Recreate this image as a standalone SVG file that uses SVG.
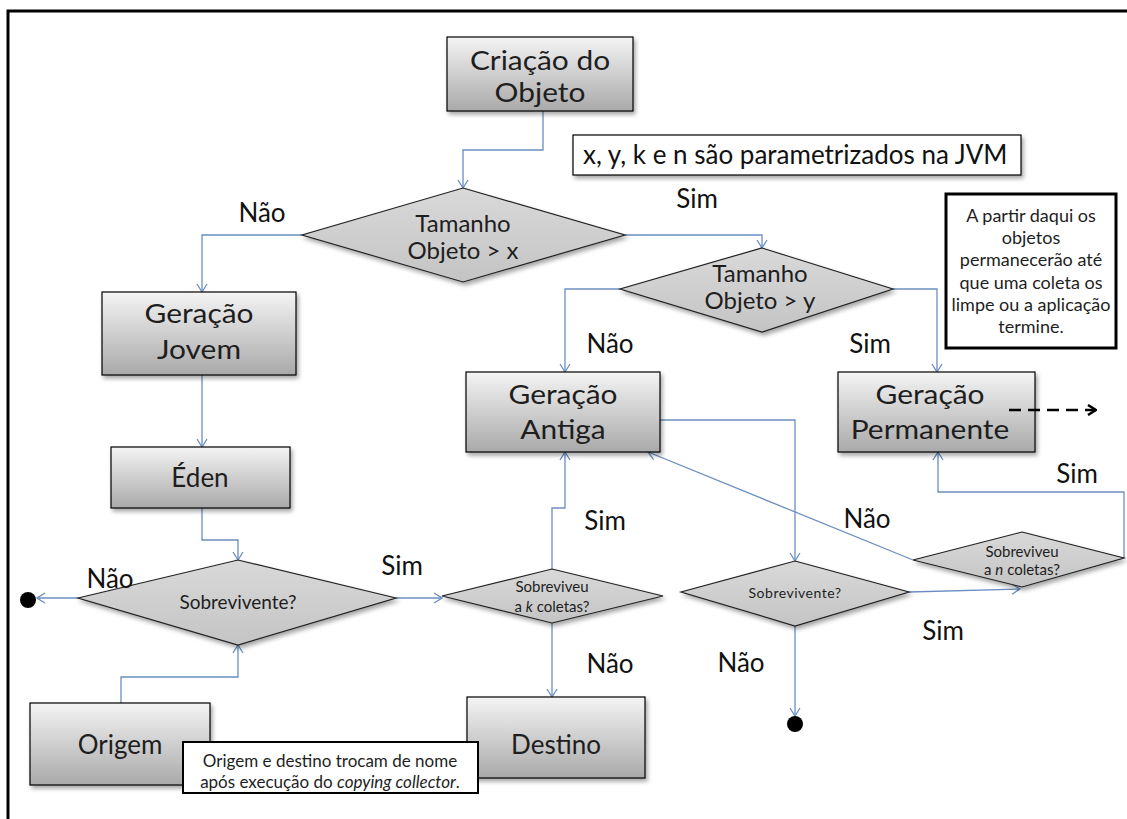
<svg xmlns="http://www.w3.org/2000/svg" width="1127" height="819" viewBox="0 0 1127 819">
<defs>
<linearGradient id="gBox" x1="0" y1="0" x2="0" y2="1">
<stop offset="0" stop-color="#f4f4f4"/>
<stop offset="1" stop-color="#a9a9a9"/>
</linearGradient>
<linearGradient id="gDia" x1="0" y1="0" x2="0" y2="1">
<stop offset="0" stop-color="#d9d9d9"/>
<stop offset="1" stop-color="#c4c4c4"/>
</linearGradient>
<filter id="sh" x="-10%" y="-10%" width="130%" height="140%">
<feDropShadow dx="2" dy="3" stdDeviation="2" flood-color="#000" flood-opacity="0.35"/>
</filter>
<marker id="arr" viewBox="0 0 10 12" markerWidth="10" markerHeight="12" refX="9" refY="6" orient="auto" markerUnits="userSpaceOnUse">
<path d="M1,1 L9,6 L1,11" fill="none" stroke="#6a8fc0" stroke-width="1.3"/>
</marker>
<marker id="arrB" viewBox="0 0 10 12" markerWidth="10" markerHeight="12" refX="9" refY="6" orient="auto" markerUnits="userSpaceOnUse">
<path d="M1,1 L9,6 L1,11" fill="none" stroke="#000" stroke-width="2.5"/>
</marker>
</defs>
<style>
.box{fill:url(#gBox);stroke:#000;stroke-width:1.2;filter:url(#sh)}
.dia{fill:url(#gDia);stroke:#222;stroke-width:1.2;filter:url(#sh)}
.t{font-family:Lato,"Liberation Sans",sans-serif;fill:#1e1e1e;text-anchor:middle}
.big{font-size:26px}
.lbl{font-family:Lato,"Liberation Sans",sans-serif;font-size:26px;fill:#111;text-anchor:middle}
.con{fill:none;stroke:#6a8fc0;stroke-width:1.3;marker-end:url(#arr)}
.note{fill:#fff;stroke:#000}
</style>
<path d="M8,819 V11 H1127" fill="none" stroke="#000" stroke-width="3"/>

<g id="connectors">
<path class="con" d="M543,111 V150 H463 V188"/>
<path class="con" d="M302,235 H202 V292"/>
<path class="con" d="M625,235 H762 V248"/>
<path class="con" d="M620,289 H565 V372"/>
<path class="con" d="M893,289 H937 V372"/>
<path class="con" d="M202,375 V447"/>
<path class="con" d="M202,508 V540 H238 V560"/>
<path class="con" d="M78,598 H37"/>
<path class="con" d="M396,598 H442"/>
<path class="con" d="M121,703 V677 H238 V645"/>
<path class="con" d="M552,569 V508 H565 V452"/>
<path class="con" d="M552,623 V697"/>
<path class="con" d="M660,420 H795 V561"/>
<path class="con" d="M795,626 V716"/>
<path class="con" d="M909,592 L1020,589"/>
<path class="con" d="M913,560 L648,452"/>
<path class="con" d="M1124,558 V492 H938 V452"/>
</g>

<g id="criacao"><rect class="box" x="447" y="37" width="186" height="74"/>
<g transform="translate(540,0) scale(1.15,1)"><text class="t big" x="0" y="70">Criação do</text><text class="t big" x="0" y="102">Objeto</text></g></g>

<g id="tamanho-x"><polygon class="dia" points="463,188 625,235 463,282 302,235"/>
<text class="t" font-size="24" x="463" y="232">Tamanho</text><text class="t" font-size="24" x="463" y="259">Objeto &gt; x</text></g>

<g id="nota-jvm"><rect class="note" x="573" y="135" width="448" height="40" stroke-width="1.2" filter="url(#sh)"/>
<text class="lbl" x="583" y="164" style="text-anchor:start">x, y, k e n são parametrizados na JVM</text></g>

<g id="tamanho-y"><polygon class="dia" points="762,248 893,289 762,332 620,289"/>
<text class="t" font-size="24" x="760" y="282">Tamanho</text><text class="t" font-size="24" x="760" y="309">Objeto &gt; y</text></g>

<g id="nota-permanente"><rect class="note" x="946" y="194" width="170" height="154" stroke-width="3"/>
<text class="t" font-size="18" x="1031" y="222">A partir daqui os</text>
<text class="t" font-size="18" x="1031" y="244">objetos</text>
<text class="t" font-size="18" x="1031" y="266">permanecerão até</text>
<text class="t" font-size="18" x="1031" y="289">que uma coleta os</text>
<text class="t" font-size="18" x="1031" y="311">limpe ou a aplicação</text>
<text class="t" font-size="18" x="1031" y="333">termine.</text></g>

<g id="geracao-jovem"><rect class="box" x="102" y="292" width="194" height="83"/>
<g transform="translate(199,0) scale(1.15,1)"><text class="t big" x="0" y="323">Geração</text><text class="t big" x="0" y="359">Jovem</text></g></g>

<g id="geracao-antiga"><rect class="box" x="466" y="372" width="194" height="80"/>
<g transform="translate(563,0) scale(1.15,1)"><text class="t big" x="0" y="404">Geração</text><text class="t big" x="0" y="439">Antiga</text></g></g>

<g id="geracao-permanente"><rect class="box" x="838" y="372" width="197" height="80"/>
<g transform="translate(930,0) scale(1.15,1)"><text class="t big" x="0" y="404">Geração</text><text class="t big" x="0" y="439">Permanente</text></g></g>

<g id="connector-dashed">
<path d="M1009,410 H1096" fill="none" stroke="#000" stroke-width="2.5" stroke-dasharray="12,7" marker-end="url(#arrB)"/>
</g>

<g id="eden"><rect class="box" x="111" y="447" width="179" height="61"/>
<text class="t big" x="200" y="487">Éden</text></g>

<g id="sobrevivente-1"><polygon class="dia" points="238,560 396,598 238,645 78,598"/>
<text class="t" font-size="19" x="238" y="609">Sobrevivente?</text></g>

<g id="sobreviveu-k"><polygon class="dia" points="552,569 663,596 552,623 442,596"/>
<text class="t" font-size="15" x="552" y="592">Sobreviveu</text>
<text class="t" font-size="15" x="552" y="612">a <tspan font-style="italic">k</tspan> coletas?</text></g>

<g id="sobrevivente-2"><polygon class="dia" points="795,561 909,592 795,626 681,592"/>
<text class="t" font-size="14" x="795" y="598" letter-spacing="0.5">Sobrevivente?</text></g>

<g id="sobreviveu-n"><polygon class="dia" points="1022,532 1124,558 1022,587 913,560"/>
<text class="t" font-size="15" x="1022" y="557">Sobreviveu</text>
<text class="t" font-size="15" x="1022" y="575">a <tspan font-style="italic">n</tspan> coletas?</text></g>

<g id="origem"><rect class="box" x="30" y="703" width="180" height="82"/>
<text class="t big" x="120" y="754">Origem</text></g>

<g id="destino"><rect class="box" x="467" y="697" width="178" height="81"/>
<text class="t big" x="556" y="754">Destino</text></g>

<g id="nota-origem"><rect class="note" x="183" y="742" width="295" height="51" stroke-width="2"/>
<text class="t" font-size="17" x="330" y="767">Origem e destino trocam de nome</text>
<text class="t" font-size="17" x="330" y="788">após execução do <tspan font-style="italic">copying collector</tspan>.</text></g>

<g id="fim-1"><circle cx="28" cy="600" r="8" fill="#000"/></g>
<g id="fim-2"><circle cx="795" cy="724" r="8" fill="#000"/></g>

<g id="labels">
<text class="lbl" x="262" y="222">Não</text>
<text class="lbl" x="697" y="208">Sim</text>
<text class="lbl" x="610" y="353">Não</text>
<text class="lbl" x="870" y="353">Sim</text>
<text class="lbl" x="110" y="588">Não</text>
<text class="lbl" x="402" y="575">Sim</text>
<text class="lbl" x="605" y="530">Sim</text>
<text class="lbl" x="610" y="673">Não</text>
<text class="lbl" x="867" y="528">Não</text>
<text class="lbl" x="1077" y="483">Sim</text>
<text class="lbl" x="741" y="672">Não</text>
<text class="lbl" x="943" y="640">Sim</text>
</g>
</svg>
